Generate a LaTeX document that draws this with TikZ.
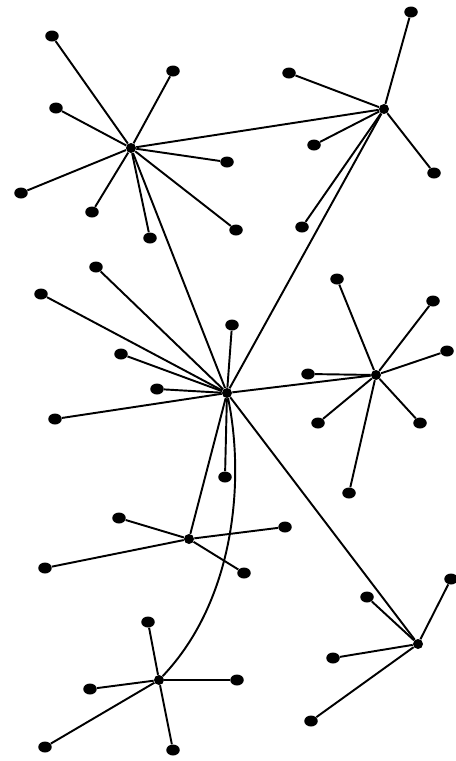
\documentclass[tikz,border=0pt]{standalone}
\usetikzlibrary{shapes.geometric}
\tikzset{
  leaf/.style={ellipse, fill, inner sep=0pt, minimum width=0.27cm, minimum height=0.22cm},
  hub/.style={circle, fill, inner sep=0pt, minimum size=0.2cm},
  link/.style={line width=1.1pt}
}

\begin{document}
\begin{tikzpicture}[x=0.02cm, y=-0.02cm]
\useasboundingbox (0,0) rectangle (456,761);
% hubs
\node[hub] (A) at (131,148) {};
\node[hub] (B) at (384,109) {};
\node[hub] (C) at (227,393) {};
\node[hub] (D) at (376,375) {};
\node[hub] (E) at (189,539) {};
\node[hub] (F) at (418,644) {};
\node[hub] (G) at (159,680) {};
% links between hubs
\draw[link] (A) -- (B);
\draw[link] (A) -- (C);
\draw[link] (B) -- (C);
\draw[link] (C) -- (D);
\draw[link] (C) -- (E);
\draw[link] (C) -- (F);
\draw[link] (C) .. controls (245,480) and (235,600) .. (G);
% leaves of A
\foreach \n/\p in {1/{52,36}, 2/{173,71}, 3/{56,108}, 4/{227,162}, 5/{21,193}, 6/{92,212}, 7/{150,238}, 8/{236,230}}{
  \node[leaf] (a\n) at (\p) {};
  \draw[link] (A) -- (a\n);
}
% leaves of B
\foreach \n/\p in {1/{411,12}, 2/{289,73}, 3/{314,145}, 4/{434,173}, 5/{302,227}}{
  \node[leaf] (b\n) at (\p) {};
  \draw[link] (B) -- (b\n);
}
% leaves of C
\foreach \n/\p in {1/{96,267}, 2/{41,294}, 3/{232,325}, 4/{121,354}, 5/{157,389}, 6/{55,419}, 7/{225,477}}{
  \node[leaf] (c\n) at (\p) {};
  \draw[link] (C) -- (c\n);
}
% leaves of D
\foreach \n/\p in {1/{337,279}, 2/{433,301}, 3/{447,351}, 4/{308,374}, 5/{318,423}, 6/{420,423}, 7/{349,493}}{
  \node[leaf] (d\n) at (\p) {};
  \draw[link] (D) -- (d\n);
}
% leaves of E
\foreach \n/\p in {1/{119,518}, 2/{285,527}, 3/{45,568}, 4/{244,573}}{
  \node[leaf] (e\n) at (\p) {};
  \draw[link] (E) -- (e\n);
}
% leaves of F
\foreach \n/\p in {1/{451,579}, 2/{367,597}, 3/{333,658}, 4/{311,721}}{
  \node[leaf] (f\n) at (\p) {};
  \draw[link] (F) -- (f\n);
}
% leaves of G
\foreach \n/\p in {1/{148,622}, 2/{90,689}, 3/{237,680}, 4/{45,747}, 5/{173,750}}{
  \node[leaf] (g\n) at (\p) {};
  \draw[link] (G) -- (g\n);
}
\end{tikzpicture}
\end{document}
